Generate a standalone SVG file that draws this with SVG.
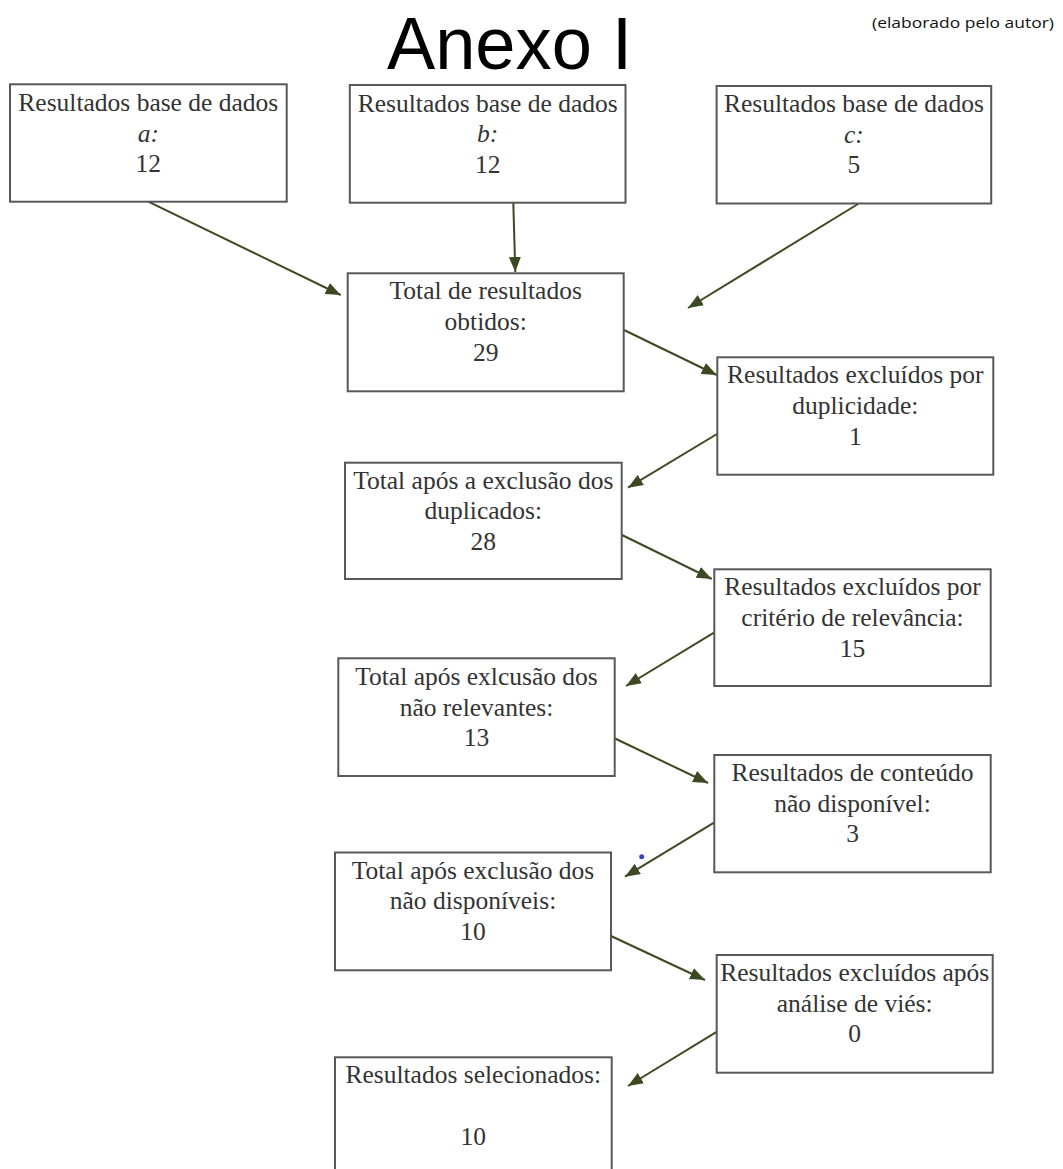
<svg xmlns="http://www.w3.org/2000/svg" width="1063" height="1169" viewBox="0 0 1063 1169">
<style>
.box{fill:#ffffff;stroke:#585858;stroke-width:2}
.t{font-family:"Liberation Serif","Times New Roman",serif;font-size:25.5px;fill:#333333;text-anchor:middle}
.i{font-style:italic}
.c{stroke:#3b4a22;stroke-width:2;fill:none;marker-end:url(#ah)}
.title{font-family:"Liberation Sans",Arial,sans-serif;font-size:74px;fill:#000000;text-anchor:middle}
.note{font-family:"Open Sans","Noto Sans",sans-serif;font-size:15px;fill:#111111;text-anchor:middle}
</style>
<defs>
<marker id="ah" markerUnits="userSpaceOnUse" markerWidth="15" markerHeight="12" refX="15" refY="6" orient="auto">
<path d="M0,0 L15,6 L0,12 z" fill="#3b4a22"/>
</marker>
</defs>
<rect width="1063" height="1169" fill="#ffffff"/>
<text class="title" x="509.5" y="68.5" textLength="245" lengthAdjust="spacingAndGlyphs">Anexo I</text>
<text class="note" x="963" y="28" textLength="182" lengthAdjust="spacingAndGlyphs">(elaborado pelo autor)</text>

<g id="connectors">
<line class="c" x1="148.3" y1="201.7" x2="340.7" y2="295"/>
<line class="c" x1="513.3" y1="203" x2="515.3" y2="272"/>
<line class="c" x1="858" y1="204" x2="688" y2="308"/>
<line class="c" x1="624" y1="330" x2="716.7" y2="375"/>
<line class="c" x1="717" y1="434" x2="628" y2="487.7"/>
<line class="c" x1="622" y1="535" x2="711.7" y2="579"/>
<line class="c" x1="714" y1="632.7" x2="626" y2="686"/>
<line class="c" x1="614" y1="738" x2="708" y2="783"/>
<line class="c" x1="714" y1="822.7" x2="625" y2="876.7"/>
<line class="c" x1="611" y1="936" x2="705" y2="980"/>
<line class="c" x1="717" y1="1031.7" x2="628" y2="1086"/>
</g>

<g id="node-a">
<rect class="box" x="10" y="84.3" width="276.7" height="117.4"/>
<text class="t" x="148.3" y="110.7">Resultados base de dados</text>
<text class="t i" x="148.3" y="141.5">a:</text>
<text class="t" x="148.3" y="172">12</text>
</g>
<g id="node-b">
<rect class="box" x="349.8" y="85" width="275.7" height="117.7"/>
<text class="t" x="487.7" y="111.5">Resultados base de dados</text>
<text class="t i" x="487.7" y="142">b:</text>
<text class="t" x="487.7" y="172.5">12</text>
</g>
<g id="node-c">
<rect class="box" x="716.6" y="86" width="274.6" height="117.5"/>
<text class="t" x="853.9" y="112">Resultados base de dados</text>
<text class="t i" x="853.9" y="142.5">c:</text>
<text class="t" x="853.9" y="173">5</text>
</g>
<g id="node-total">
<rect class="box" x="347.7" y="273.3" width="276" height="118"/>
<text class="t" x="485.7" y="299.3">Total de resultados</text>
<text class="t" x="485.7" y="330">obtidos:</text>
<text class="t" x="485.7" y="360.7">29</text>
</g>
<g id="node-dup">
<rect class="box" x="717.3" y="357.3" width="276" height="117.4"/>
<text class="t" x="855.3" y="383.3">Resultados excluídos por</text>
<text class="t" x="855.3" y="414">duplicidade:</text>
<text class="t" x="855.3" y="444.7">1</text>
</g>
<g id="node-28">
<rect class="box" x="345" y="462.7" width="276.7" height="116.3"/>
<text class="t" x="483.3" y="488.7">Total após a exclusão dos</text>
<text class="t" x="483.3" y="519.4">duplicados:</text>
<text class="t" x="483.3" y="550">28</text>
</g>
<g id="node-relev">
<rect class="box" x="714.3" y="569.3" width="276.4" height="116.7"/>
<text class="t" x="852.5" y="595.3">Resultados excluídos por</text>
<text class="t" x="852.5" y="626">critério de relevância:</text>
<text class="t" x="852.5" y="656.7">15</text>
</g>
<g id="node-13">
<rect class="box" x="338.3" y="658.3" width="276.4" height="117.7"/>
<text class="t" x="476.5" y="685">Total após exlcusão dos</text>
<text class="t" x="476.5" y="715.5">não relevantes:</text>
<text class="t" x="476.5" y="746">13</text>
</g>
<g id="node-cont">
<rect class="box" x="714.3" y="755" width="276.4" height="117.3"/>
<text class="t" x="852.5" y="781">Resultados de conteúdo</text>
<text class="t" x="852.5" y="811.7">não disponível:</text>
<text class="t" x="852.5" y="842.4">3</text>
</g>
<g id="node-10">
<rect class="box" x="335" y="852.5" width="276" height="117.8"/>
<text class="t" x="473" y="878.5">Total após exclusão dos</text>
<text class="t" x="473" y="909.2">não disponíveis:</text>
<text class="t" x="473" y="940">10</text>
</g>
<g id="node-vies">
<rect class="box" x="716.7" y="955" width="276" height="117.7"/>
<text class="t" x="854.7" y="981">Resultados excluídos após</text>
<text class="t" x="854.7" y="1011.7">análise de viés:</text>
<text class="t" x="854.7" y="1042.4">0</text>
</g>
<g id="node-selec">
<rect class="box" x="335" y="1057.3" width="276.7" height="130"/>
<text class="t" x="473.3" y="1083.3">Resultados selecionados:</text>
<text class="t" x="473.3" y="1145">10</text>
</g>
<circle cx="641.7" cy="856.7" r="2.5" fill="#3344cc"/>
</svg>
